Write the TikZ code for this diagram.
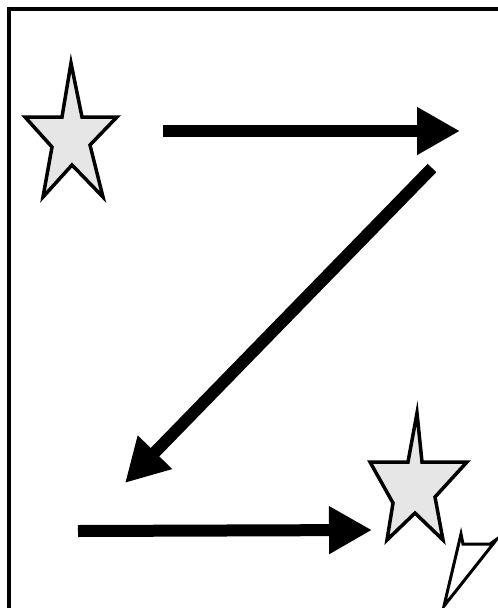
\documentclass[tikz,border=0pt]{standalone}
\usetikzlibrary{arrows.meta}
\definecolor{starfill}{HTML}{E6E6E6}

\begin{document}
\begin{tikzpicture}[
  x=1pt, y=-1pt,
  >={Triangle[length=43pt,width=45pt]},
  frame/.style={line width=4pt},
  starshape/.style={draw, fill=starfill, line width=3.5pt, line join=miter},
  move/.style={->, line width=12pt},
  flap/.style={draw, fill=white, line width=3pt},
]
\useasboundingbox (0,0) rectangle (498,608);
\clip (0,0) rectangle (498,608);

% frame, open at right and bottom
\draw[frame] (9,620) -- (9,9) -- (510,9);

% start star
\draw[starshape] (71,63) -- (82,117) -- (117,117) -- (90,145) -- (103,197)
  -- (72,165) -- (43,197) -- (52,147) -- (25,117) -- (62,117) -- cycle;

% end star
\draw[starshape] (417,413) -- (422,462) -- (467,462) -- (435,497) -- (443,540)
  -- (415,513) -- (387,540) -- (393,503) -- (370,462) -- (408,462) -- cycle;

\coordinate (toptail) at (163,131);
\coordinate (tophead) at (460,131);
\coordinate (diagtail) at (432,168);
\coordinate (diaghead) at (125,483);
\coordinate (lowtail) at (78,531);
\coordinate (lowhead) at (372,530);

\foreach \a/\b in {toptail/tophead, diagtail/diaghead, lowtail/lowhead}
  \draw[move] (\a) -- (\b);

% pointer at bottom right
\draw[flap] (461,534) -- (463,544) -- (490,544) -- (497,539) -- (444,606) -- cycle;

\end{tikzpicture}
\end{document}
